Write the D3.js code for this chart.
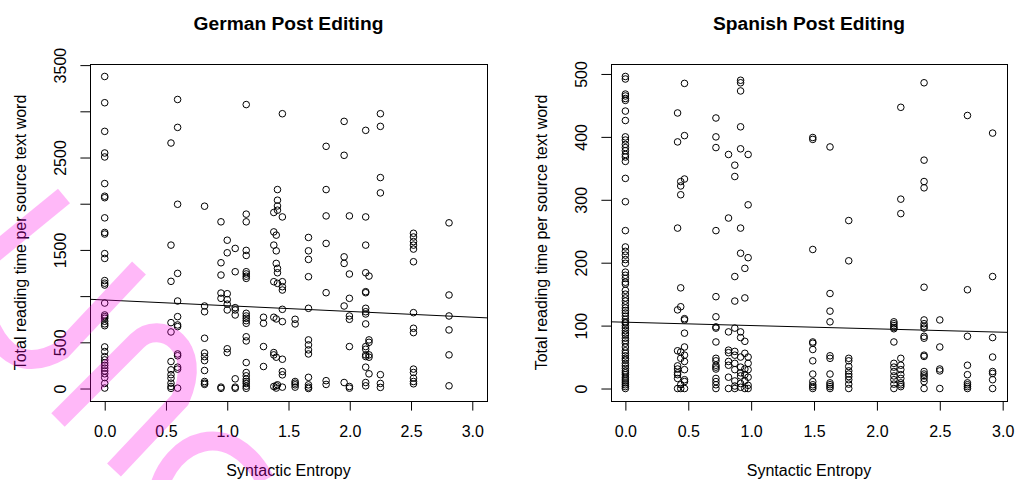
<!DOCTYPE html>
<html>
<head>
<meta charset="utf-8">
<script src="https://cdn.jsdelivr.net/npm/d3@7"></script>
<style>
  html, body { margin: 0; padding: 0; background: #fff; }
  svg { display: block; }
  text { font-family: "Liberation Sans", Arial, sans-serif; fill: #000; }
</style>
</head>
<body>
<svg id="chart" width="1016" height="480"></svg>
<script>
// ---- German post editing: reading time per word, grouped by syntactic entropy value ----
const deEntropy = [0, 0.541, 0.595, 0.815, 0.949, 1.0, 1.065, 1.155, 1.296, 1.38, 1.40, 1.41, 1.45,
  1.554, 1.663, 1.807, 1.954, 1.997, 2.13, 2.157, 2.25, 2.52, 2.81];
const deTimes = [
  [3377, 3093, 2783, 2549, 2506, 2218, 2081, 2065, 1847, 1689, 1672, 1460, 1408, 1168, 1140, 1120, 925,
   796, 778, 760, 728, 700, 680, 450, 400, 345, 310, 278, 250, 220, 190, 160, 118, 55, 5],
  [2657, 1552, 1160, 713, 612, 292, 202, 150, 112, 58, 22, 2],
  [3128, 2826, 1994, 1246, 947, 778, 688, 670, 374, 355, 231, 210, 4],
  [1973, 893, 831, 544, 385, 345, 302, 195, 76, 58, 45],
  [1804, 1361, 1228, 1033, 976, 15, 2],
  [1605, 1469, 1026, 962, 913, 850, 430, 389],
  [1516, 1264, 875, 850, 796, 105, 15, 2],
  [3073, 1887, 1804, 1495, 1440, 1264, 1240, 1215, 1192, 814, 785, 760, 734, 706, 560, 515, 281, 173,
   137, 101, 76, 54, 25, 2],
  [771, 706, 454, 238],
  [1905, 1695, 1552, 1156, 771, 389, 364, 22],
  [1660, 1490, 1354, 753, 339, 29, 5],
  [2153, 2038, 1976, 1930, 1300, 1253, 1138, 40],
  [2974, 1857, 1156, 1102, 1066, 857, 724, 317, 184, 148, 15],
  [749, 699, 76, 58, 40, 15],
  [1635, 1490, 1397, 1210, 868, 526, 472, 418, 374, 121, 40, 15, 0],
  [2621, 2153, 1868, 1570, 1037, 85, 44],
  [2891, 2524, 1425, 1354, 893, 65],
  [1868, 1239, 976, 785, 749, 454, 22, 4],
  [2794, 1857, 1552, 1253, 1048, 1037, 868, 831, 807, 699, 454, 425, 364, 346, 231, 65, 29],
  [1217, 526, 500, 364, 339, 159],
  [2974, 2837, 2283, 2117, 150, 55, 12],
  [1680, 1640, 1590, 1552, 1509, 1372, 821, 652, 605, 210, 173, 112, 76, 51],
  [1793, 1012, 785, 634, 364, 29]
];
const deFit = [958, -62];          // intercept, slope
const deXLimits = [0, 3];
const deXTicks = [0, 0.5, 1, 1.5, 2, 2.5, 3];
const deYTicks = [0, 500, 1000, 1500, 2000, 2500, 3000, 3500];
const deYLabels = ["0", "500", "", "1500", "", "2500", "", "3500"];

// ---- Spanish post editing ----
const esEntropy = [0, 0.415, 0.44, 0.47, 0.72, 0.82, 0.87, 0.916, 0.95, 0.976, 1.49, 1.627, 1.776,
  2.135, 2.19, 2.375, 2.5, 2.72, 2.92];
const esTimes = [
  [496, 492, 468, 465, 461, 458, 441, 426, 400, 395, 388, 383, 378, 372, 368, 361, 334, 297, 251, 225,
   218, 212, 205, 199, 185, 180, 175, 169, 166, 156, 150, 144, 139, 133, 128, 124, 120, 115, 110, 106,
   104, 100, 96, 92, 88, 85, 80, 76, 72, 66, 60, 56, 52, 48, 45, 40, 36, 32, 28, 25, 22, 18, 15, 12, 9,
   6, 3, 0],
  [438, 392, 255, 125, 60, 36, 31, 25, 22, 16, 0],
  [329, 322, 308, 160, 130, 58, 48, 6, 0],
  [485, 402, 333, 111, 109, 88, 66, 53, 43, 30, 14, 11, 0],
  [430, 400, 383, 251, 146, 114, 98, 96, 74, 48, 44, 37, 34, 31, 16, 11, 6, 0],
  [372, 271, 90, 61, 57, 43, 37, 18, 0],
  [355, 337, 178, 139, 96, 59, 53, 40, 30, 12, 4, 0],
  [490, 486, 473, 416, 381, 255, 215, 90, 81, 50, 34, 25, 20, 8, 2],
  [191, 144, 75, 56, 31, 22, 12, 0],
  [372, 292, 208, 50, 40, 30, 18, 5, 0],
  [399, 396, 221, 74, 72, 62, 44, 23, 11, 6, 3, 0],
  [384, 151, 123, 106, 52, 48, 23, 9, 6, 3, 0],
  [267, 203, 48, 44, 35, 28, 23, 19, 14, 7, 0],
  [106, 103, 100, 97, 95, 74, 40, 34, 27, 20, 14, 7, 0],
  [447, 301, 278, 48, 37, 30, 22, 16, 9, 6, 3],
  [486, 363, 329, 319, 161, 109, 103, 99, 96, 83, 80, 53, 51, 27, 23, 20, 16, 11, 0],
  [109, 66, 31, 28, 0],
  [434, 157, 83, 37, 22, 9, 6, 3, 0],
  [406, 178, 81, 50, 27, 24, 14, 0]
];
const esFit = [105.4, -5.3];
const esXTicks = [0, 0.5, 1, 1.5, 2, 2.5, 3];
const esYTicks = [0, 100, 200, 300, 400, 500];
const esYLabels = ["0", "100", "200", "300", "400", "500"];

const titles = ["German Post Editing", "Spanish Post Editing"];
const xTitle = "Syntactic Entropy";
const yTitle = "Total reading time per source text word";

// ---- layout ----
const svg = d3.select("#chart");
const plotTop = 64, plotBottom = 401;
const tickLen = 9.6;
const FONT = '"Liberation Sans", Arial, sans-serif';

const panels = [
  { title: titles[0], entropy: deEntropy, times: deTimes, fit: deFit, xLimits: deXLimits,
    xTicks: deXTicks, yTicks: deYTicks, yLabels: deYLabels, left: 90, right: 487 },
  { title: titles[1], entropy: esEntropy, times: esTimes, fit: esFit, xLimits: null,
    xTicks: esXTicks, yTicks: esYTicks, yLabels: esYLabels, left: 610.7, right: 1007.3 }
];

// widen a range by 4% on each side
const pad = r => { const d = (r[1] - r[0]) * 0.04; return [r[0] - d, r[1] + d]; };

panels.forEach((p, k) => {
  const pts = p.entropy.flatMap((e, i) => p.times[i].map(t => ({ x: e, y: t })));
  const xr = p.xLimits || d3.extent(pts, d => d.x);
  const yr = d3.extent(pts, d => d.y);
  const x = d3.scaleLinear().domain(pad(xr)).range([p.left, p.right]);
  const y = d3.scaleLinear().domain(pad(yr)).range([plotBottom, plotTop]);
  const g = svg.append("g");
  const cx = (p.left + p.right) / 2;

  // clip for the fitted line
  const clipId = "clip" + k;
  svg.append("clipPath").attr("id", clipId).append("rect")
    .attr("x", p.left).attr("y", plotTop)
    .attr("width", p.right - p.left).attr("height", plotBottom - plotTop);

  // points
  g.append("g").selectAll("circle").data(pts).join("circle")
    .attr("cx", d => x(d.x)).attr("cy", d => y(d.y)).attr("r", 3.3)
    .attr("fill", "none").attr("stroke", "#000").attr("stroke-width", 1);

  // fitted line across the plot region
  const xd = x.domain();
  g.append("line").attr("clip-path", `url(#${clipId})`)
    .attr("x1", x(xd[0])).attr("y1", y(p.fit[0] + p.fit[1] * xd[0]))
    .attr("x2", x(xd[1])).attr("y2", y(p.fit[0] + p.fit[1] * xd[1]))
    .attr("stroke", "#000").attr("stroke-width", 1);

  // box
  g.append("rect")
    .attr("x", Math.round(p.left) + 0.5).attr("y", plotTop + 0.5)
    .attr("width", Math.round(p.right) - Math.round(p.left)).attr("height", plotBottom - plotTop)
    .attr("fill", "none").attr("stroke", "#000").attr("stroke-width", 1);

  // x axis
  const xa = g.append("g").attr("transform", `translate(0,${plotBottom})`)
    .call(d3.axisBottom(x).tickValues(p.xTicks).tickSize(tickLen).tickFormat(d3.format(".1f")));
  xa.select(".domain").remove();
  xa.attr("font-size", 16).attr("font-family", FONT).attr("color", "#000");
  xa.selectAll("text").attr("y", 36).attr("dy", null).style("fill", "#000");

  // y axis
  const ya = g.append("g").attr("transform", `translate(${Math.round(p.left)},0)`)
    .call(d3.axisLeft(y).tickValues(p.yTicks).tickSize(tickLen).tickFormat((d, i) => p.yLabels[i]));
  ya.select(".domain").remove();
  ya.attr("font-size", 16).attr("font-family", FONT).attr("color", "#000");
  ya.selectAll("text").attr("transform", "rotate(-90)")
    .attr("x", 0).attr("y", -24.5).attr("dy", null)
    .attr("text-anchor", "middle").style("fill", "#000");

  // titles
  g.append("text").attr("x", cx).attr("y", 29.5).attr("text-anchor", "middle")
    .attr("font-size", 19.2).attr("font-weight", "bold").text(p.title);
  g.append("text").attr("x", cx).attr("y", 476).attr("text-anchor", "middle")
    .attr("font-size", 16).text(xTitle);
  g.append("text")
    .attr("transform", `translate(${Math.round(p.left) - 64.5},${(plotTop + plotBottom) / 2}) rotate(-90)`)
    .attr("text-anchor", "middle").attr("font-size", 16).text(yTitle);
});

// translucent pink stamp strokes over the left panel
const stamp = svg.append("g")
  .attr("fill", "none").attr("stroke", "#ff00e6").attr("stroke-opacity", 0.28)
  .attr("stroke-width", 19).attr("stroke-linecap", "butt");
[
  "M -12,258 L 64,196",
  "M -14,316 Q 10,380 62,350 L 139,268",
  "M 58,420 L 137,341 C 160,318 205,345 180,400 L 114,470",
  "M 158,492 C 170,440 230,415 265,480"
].forEach(dp => stamp.append("path").attr("d", dp));
</script>
</body>
</html>
